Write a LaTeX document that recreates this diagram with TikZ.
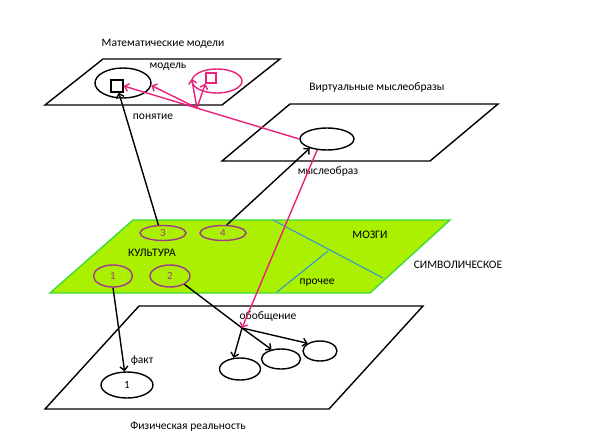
\documentclass[tikz,border=0pt]{standalone}
\usepackage{fontspec}
\setmainfont{Carlito}
\usepackage{tikz}
\usetikzlibrary{shapes.geometric, arrows.meta, positioning}
\definecolor{pinkline}{HTML}{E8227A}
\definecolor{limefill}{HTML}{AAF000}
\definecolor{limeedge}{HTML}{3CDC3C}
\definecolor{plum}{HTML}{A03A8A}
\definecolor{divider}{HTML}{3399CC}

\begin{document}
\begin{tikzpicture}[x=1pt, y=-1pt, line width=1.4pt,
    >={Straight Barb[length=4pt,width=8pt]},
    lbl/.style={font=\fontsize{11.5}{13}\selectfont, inner sep=1pt},
    oval/.style={ellipse, draw, inner sep=0pt, font=\fontsize{11}{13}\selectfont},
    cult/.style={oval, draw=plum, text=plum}]
        \useasboundingbox (0,0) rectangle (591,444);
        % planes
        \draw (45,105) -- (103,59) -- (280,59) -- (222,105) -- cycle;
        \draw (222,161) -- (290,104) -- (498,104) -- (430,161) -- cycle;
        \draw[fill=limefill, draw=limeedge] (50,293) -- (133,220) -- (450,220) -- (370,293) -- cycle;
        \draw (45,409) -- (139,306) -- (423,306) -- (329,409) -- cycle;
        \draw[divider, line width=1.1pt] (273,220) -- (383,278);
        \draw[divider, line width=1.1pt] (328,251) -- (277,292);
        % plane titles
        \node[lbl] (tmath) at (163,44) {Математические модели};
        \node[lbl] (tvirt) at (377,88) {Виртуальные мыслеобразы};
        \node[lbl] (tsym) at (458,265) {СИМВОЛИЧЕСКОЕ};
        \node[lbl] (tphys) at (188,427) {Физическая реальность};
        % mathematical models
        \node[oval, minimum width=56pt, minimum height=30pt] (model) at (123,83) {};
        \node[draw, minimum size=12pt, inner sep=0pt] (sq) at (117,86) {};
        \node[oval, draw=pinkline, minimum width=50pt, minimum height=24pt] (pinkov) at (217,81) {};
        \node[draw=pinkline, minimum size=10pt, inner sep=0pt] (psq) at (211,78) {};
        \node[lbl] (lmodel) at (168,67) {модель};
        \node[lbl] (lconcept) at (153,117) {понятие};
        % virtual images
        \node[oval, minimum width=54pt, minimum height=22pt] (thought) at (327,139) {};
        \node[lbl] (lthought) at (328,172) {мыслеобраз};
        % culture
        \node[cult, minimum width=46pt, minimum height=15pt] (c3) at (163,233) {3};
        \node[cult, minimum width=46pt, minimum height=15pt] (c4) at (223,233) {4};
        \node[cult, minimum width=39pt, minimum height=22pt] (c1) at (113,276) {1};
        \node[cult, minimum width=40pt, minimum height=22pt] (c2) at (170,276) {2};
        \node[lbl] (lcult) at (152,253) {КУЛЬТУРА};
        \node[lbl] (lbrain) at (370,235) {МОЗГИ};
        \node[lbl] (lother) at (317,283) {прочее};
        % physical reality
        \node[oval, minimum width=52pt, minimum height=26pt] (fact) at (127,385) {1};
        \node[lbl] (lfact) at (142,361) {факт};
        \node[oval, minimum width=41pt, minimum height=22pt] (g1) at (240,369) {};
        \node[oval, minimum width=39pt, minimum height=20pt] (g2) at (281,359) {};
        \node[oval, minimum width=34pt, minimum height=20pt] (g3) at (320,351) {};
        \node[lbl] (lgen) at (268,317) {обобщение};
        \coordinate (gen) at (242,328);
        \coordinate (split) at (197,108);
        % black connectors
        \draw[->] (c3.120) -- (sq.-75);
        \draw[->] (c4.65) -- (thought.-152);
        \draw[->] (c1.south) -- (fact.100);
        \draw (c2.-30) -- (gen);
        \draw[->] (gen) -- (g1.120);
        \draw[->] (gen) -- (g2.135);
        \draw[->] (gen) -- (g3.148);
        % pink connectors
        \draw[pinkline, ->] (thought.west) -- (sq.east);
        \draw[pinkline, ->] (split) -- (model.-5);
        \draw[pinkline, ->] (split) -- (pinkov.175);
        \draw[pinkline, ->] (split) -- (psq.south west);
        \draw[pinkline, ->] (thought.-132) -- (gen);
    \end{tikzpicture}
\end{document}
